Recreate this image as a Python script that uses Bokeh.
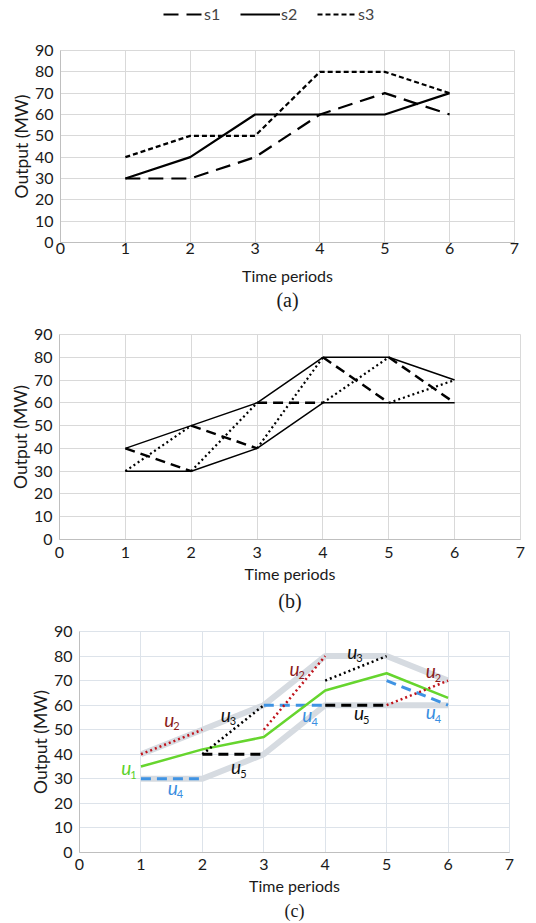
from bokeh.plotting import figure
from bokeh.models import Legend, LegendItem, Title, Range1d, FixedTicker, ColumnDataSource
from bokeh.core.properties import value
from bokeh.embed import file_html
from bokeh.resources import INLINE

# ---------------- data ----------------
periods = [1, 2, 3, 4, 5, 6]
x_ticks = [0, 1, 2, 3, 4, 5, 6, 7]
y_ticks = [0, 10, 20, 30, 40, 50, 60, 70, 80, 90]
series_names = ["s1", "s2", "s3"]

# panel (a)
s1 = [30, 30, 40, 60, 70, 60]
s2 = [30, 40, 60, 60, 60, 70]
s3 = [40, 50, 50, 80, 80, 70]

# panel (b) / (c) envelope
upper = [40, 50, 60, 80, 80, 70]
lower = [30, 30, 40, 60, 60, 60]

# panel (c)
u1 = [35, 42, 47, 66, 73, 63]
u2_x0 = [1, 3, 5]; u2_y0 = [40, 50, 60]; u2_x1 = [2, 4, 6]; u2_y1 = [50, 80, 70]
u3_x0 = [2, 4];    u3_y0 = [40, 70];     u3_x1 = [3, 5];    u3_y1 = [60, 80]
u4_x0 = [1, 3, 5]; u4_y0 = [30, 60, 70]; u4_x1 = [2, 4, 6]; u4_y1 = [30, 60, 60]
u5_x0 = [2, 4];    u5_y0 = [40, 60];     u5_x1 = [3, 5];    u5_y1 = [40, 60]

lab_x = [1.46, 2.38, 3.50, 3.71, 4.44, 4.55, 5.72, 5.72, 0.76, 1.52, 2.55]
lab_y = [54.2, 56.2, 75.0, 56.0, 82.0, 57.0, 74.0, 57.4, 34.6, 26.5, 35.0]
lab_sub = ["2", "3", "2", "4", "3", "5", "2", "4", "1", "4", "5"]
lab_col = ["#8b1c1c", "#111111", "#8b1c1c", "#3a8ee0", "#111111", "#111111",
           "#8b1c1c", "#3a8ee0", "#5ad12a", "#3a8ee0", "#111111"]

FONT = "Lato"
S_STYLES = [dict(line_dash="15 8"), dict(line_dash="solid"), dict(line_dash="5 3")]


def make_fig(fw, fh, left, right, top, bottom, caption, grid_color,
             tick_std, xlab_std, cap_std, cap_size):
    p = figure(frame_width=fw, frame_height=fh, x_range=Range1d(0, 7),
               y_range=Range1d(0, 90), output_backend="svg", toolbar_location=None,
               min_border_left=left, min_border_right=right,
               min_border_top=top, min_border_bottom=bottom)
    p.xaxis.ticker = FixedTicker(ticks=x_ticks)
    p.yaxis.ticker = FixedTicker(ticks=y_ticks)
    for ax in (p.xaxis[0], p.yaxis[0]):
        ax.major_tick_line_color = None
        ax.minor_tick_line_color = None
        ax.axis_line_color = "#bfbfbf"
        ax.major_label_text_font = FONT
        ax.major_label_text_font_size = "16px"
        ax.major_label_text_color = "#1a1a1a"
        ax.axis_label_text_font = FONT
        ax.axis_label_text_font_style = "normal"
        ax.axis_label_text_color = "#1a1a1a"
    p.xaxis.axis_label = "Time periods"
    p.yaxis.axis_label = "Output (MW)"
    p.xaxis.axis_label_text_font_size = "16px"
    p.yaxis.axis_label_text_font_size = "17.5px"
    p.xaxis.major_label_standoff = tick_std
    p.yaxis.major_label_standoff = 1
    p.xaxis.axis_label_standoff = xlab_std
    p.yaxis.axis_label_standoff = 0
    p.grid.grid_line_color = grid_color
    p.grid.grid_line_width = 1
    p.outline_line_color = grid_color
    p.background_fill_color = "white"
    p.border_fill_color = "white"
    p.add_layout(Title(text=caption, align="center", text_font="Liberation Serif",
                       text_font_size=cap_size, text_font_style="normal",
                       text_color="#1a1a1a", standoff=cap_std), "below")
    return p


# ---------------- legend strip (top) ----------------
# key renderers carry the series but sit outside this strip's visible range
pl = figure(width=528, height=30, output_backend="svg", toolbar_location=None,
            min_border=0, x_range=Range1d(100, 101), y_range=Range1d(100, 101))
pl.axis.visible = False
pl.grid.visible = False
pl.outline_line_color = None
leg_items = []
for name, ys, st in zip(series_names, [s1, s2, s3], S_STYLES):
    r = pl.line(periods, ys, line_color="black", line_width=2, **st)
    leg_items.append(LegendItem(label=name, renderers=[r]))
leg = Legend(items=leg_items, orientation="horizontal", location=(163, 7),
             border_line_alpha=0, background_fill_alpha=0,
             label_text_font=FONT, label_text_font_size="16px",
             glyph_width=40, glyph_height=14, label_standoff=1, spacing=16,
             padding=0, margin=0)
pl.add_layout(leg, "center")

# ---------------- panel (a) ----------------
pa = make_fig(454, 192, 60, 14, 20, 70, "(a)", "#d9d9d9", -6, 9, -1, "20px")
for ys, st in zip([s1, s2, s3], S_STYLES):
    pa.line(periods, ys, line_color="black", line_width=2.2, **st)

# ---------------- panel (b) ----------------
pb = make_fig(461, 205, 59, 10, 22, 76, "(b)", "#d9d9d9", 1, 3, 5, "20px")
pb.line(periods, upper, line_color="black", line_width=1.5)
pb.line(periods, lower, line_color="black", line_width=1.5)
pb.segment(x0=periods[:-1], y0=upper[:-1], x1=periods[1:], y1=lower[1:],
           line_color="black", line_width=2.5, line_dash="10 6")
pb.segment(x0=periods[:-1], y0=lower[:-1], x1=periods[1:], y1=upper[1:],
           line_color="black", line_width=2.2, line_dash="2 3")

# ---------------- panel (c) ----------------
pc = make_fig(430, 221, 79, 19, 16, 62, "(c)", "#dde3ea", 0, 3, 3, "18px")
pc.line(periods, upper, line_color="#d6dbe1", line_width=6)
pc.line(periods, lower, line_color="#d6dbe1", line_width=6)
pc.segment(x0=u4_x0, y0=u4_y0, x1=u4_x1, y1=u4_y1, line_color="#3f93e3",
           line_width=3, line_dash="10 6")
pc.segment(x0=u5_x0, y0=u5_y0, x1=u5_x1, y1=u5_y1, line_color="black",
           line_width=3, line_dash="10 6")
pc.line(periods, u1, line_color="#66d52e", line_width=2.5)
pc.segment(x0=u2_x0, y0=u2_y0, x1=u2_x1, y1=u2_y1, line_color="#c0141c",
           line_width=2.5, line_dash="2 3")
pc.segment(x0=u3_x0, y0=u3_y0, x1=u3_x1, y1=u3_y1, line_color="black",
           line_width=2.5, line_dash="2 3")

lab_src = ColumnDataSource(dict(x=lab_x, y=lab_y, sub=lab_sub, col=lab_col,
                                u=["u"] * len(lab_x)))
pc.text(x="x", y="y", text="u", text_color="col", source=lab_src,
        text_font=value(FONT), text_font_size="19px", text_font_style="italic",
        text_align="center", text_baseline="middle")
pc.text(x="x", y="y", text="sub", text_color="col", source=lab_src,
        text_font=value(FONT), text_font_size="11px",
        text_align="left", text_baseline="middle", x_offset=4, y_offset=7)

open("out.html", "w").write(file_html([pl, pa, pb, pc], INLINE))
